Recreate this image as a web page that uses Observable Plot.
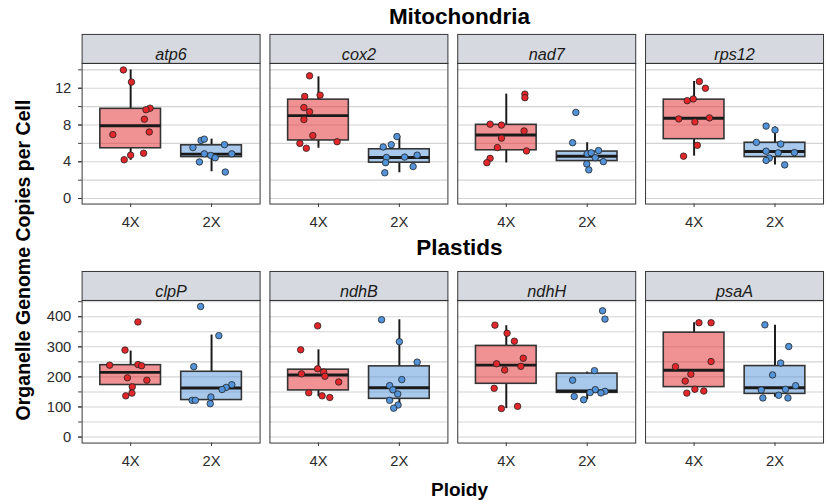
<!DOCTYPE html>
<html><head><meta charset="utf-8">
<script src="https://cdn.jsdelivr.net/npm/d3@7"></script>
<script src="https://cdn.jsdelivr.net/npm/@observablehq/plot@0.6"></script>
<style>
html,body{margin:0;padding:0;background:#fff;overflow:hidden;}
#wrap{position:relative;width:826px;height:500px;overflow:hidden;font-family:"Liberation Sans",Arial,Helvetica,sans-serif;}
.t{position:absolute;font-weight:bold;color:#000;white-space:nowrap;line-height:1;}
.p{position:absolute;left:0;}
#wrap svg g[aria-label$="tick label"], #wrap svg g[aria-label$="tick label"] text{font-size:15px !important;}
</style></head><body><div id="wrap">
<div class="t" style="left:82px;width:755px;top:6px;text-align:center;font-size:22.5px;">Mitochondria</div>
<div class="t" style="left:82px;width:755px;top:237px;text-align:center;font-size:22.5px;">Plastids</div>
<div class="t" style="left:82px;width:755px;top:480px;text-align:center;font-size:19px;">Ploidy</div>
<div class="t" style="left:24px;top:260px;font-size:19.5px;transform:translate(-50%,-50%) rotate(-90deg);">Organelle Genome Copies per Cell</div>
<div class="p" id="mito" style="top:0px;"></div>
<div class="p" id="plas" style="top:240px;"></div>
</div>
<script>
const ploidies = ["4X", "2X"];
const ploidyColors = ["#e2262a", "#5393d9"];
const mitoGenes = ["atp6", "cox2", "nad7", "rps12"];
const plastidGenes = ["clpP", "ndhB", "ndhH", "psaA"];
const mitoGridTicks = [0, 2, 4, 6, 8, 10, 12, 14];
const mitoLabelTicks = [0, 4, 8, 12];
const plastidGridTicks = [0, 50, 100, 150, 200, 250, 300, 350, 400, 450];
const plastidLabelTicks = [0, 100, 200, 300, 400];

// [gene, ploidy, value, jitter]
const mitoPoints = [
  ["atp6","4X",13.99,-0.09],["atp6","4X",12.67,0.01],["atp6","4X",9.83,0.24],["atp6","4X",9.66,0.19],["atp6","4X",8.63,0.17],
  ["atp6","4X",6.96,-0.22],["atp6","4X",7.24,0.23],["atp6","4X",4.72,0.0],["atp6","4X",4.93,0.16],["atp6","4X",4.22,-0.08],
  ["atp6","2X",6.32,-0.13],["atp6","2X",6.46,-0.09],["atp6","2X",5.54,-0.23],["atp6","2X",5.86,0.16],["atp6","2X",4.86,-0.09],
  ["atp6","2X",4.86,0.25],["atp6","2X",4.69,-0.01],["atp6","2X",4.44,0.045],["atp6","2X",3.98,-0.15],["atp6","2X",2.88,0.17],
  ["cox2","4X",13.35,-0.11],["cox2","4X",11.25,0.02],["cox2","4X",11.11,-0.17],["cox2","4X",9.90,-0.18],["cox2","4X",9.44,-0.11],
  ["cox2","4X",8.59,-0.18],["cox2","4X",6.85,-0.07],["cox2","4X",6.18,0.23],["cox2","4X",6.0,-0.23],["cox2","4X",5.47,-0.15],
  ["cox2","2X",6.74,-0.03],["cox2","2X",5.86,-0.10],["cox2","2X",5.61,-0.20],["cox2","2X",4.47,-0.16],["cox2","2X",4.51,0.065],
  ["cox2","2X",4.72,0.22],["cox2","2X",3.90,-0.17],["cox2","2X",3.48,0.17],["cox2","2X",2.80,-0.18],
  ["nad7","4X",11.36,0.23],["nad7","4X",10.97,0.23],["nad7","4X",8.09,-0.20],["nad7","4X",7.99,-0.06],["nad7","4X",7.35,0.22],
  ["nad7","4X",6.57,-0.06],["nad7","4X",5.54,-0.11],["nad7","4X",5.18,0.25],["nad7","4X",4.37,-0.20],["nad7","4X",3.90,-0.24],
  ["nad7","2X",9.37,-0.14],["nad7","2X",6.07,-0.18],["nad7","2X",5.22,0.14],["nad7","2X",4.86,0.0],["nad7","2X",4.97,0.05],
  ["nad7","2X",4.44,0.10],["nad7","2X",4.01,0.20],["nad7","2X",3.76,-0.005],["nad7","2X",3.12,0.02],
  ["rps12","4X",12.74,0.065],["rps12","4X",12.0,0.14],["rps12","4X",10.65,-0.085],["rps12","4X",10.83,-0.01],["rps12","4X",8.66,-0.19],
  ["rps12","4X",8.77,0.19],["rps12","4X",8.34,0.01],["rps12","4X",5.79,0.04],["rps12","4X",4.61,-0.13],
  ["rps12","2X",7.88,-0.11],["rps12","2X",7.45,0.0],["rps12","2X",6.11,-0.23],["rps12","2X",5.93,0.07],["rps12","2X",5.15,-0.11],
  ["rps12","2X",4.97,0.04],["rps12","2X",5.0,0.24],["rps12","2X",4.40,-0.07],["rps12","2X",4.15,-0.11],["rps12","2X",3.66,0.12]
];
// [gene, ploidy, lower whisker, q1, median, q3, upper whisker]
const mitoBoxes = [
  ["atp6","4X",4.15,5.47,7.92,9.76,13.99],["atp6","2X",2.91,4.51,4.83,5.79,6.46],
  ["cox2","4X",5.47,6.32,9.02,10.76,13.24],["cox2","2X",2.80,3.90,4.47,5.36,6.74],
  ["nad7","4X",3.87,5.25,6.92,8.02,11.36],["nad7","2X",3.12,4.08,4.61,5.11,6.07],
  ["rps12","4X",4.61,6.46,8.73,10.76,12.74],["rps12","2X",3.66,4.51,5.11,6.07,7.77]
];
const plastidPoints = [
  ["clpP","4X",382.6,0.09],["clpP","4X",289,-0.07],["clpP","4X",239,-0.26],["clpP","4X",241,0.09],["clpP","4X",237,0.135],
  ["clpP","4X",197,-0.04],["clpP","4X",189,0.20],["clpP","4X",167,0.02],["clpP","4X",146,0.016],["clpP","4X",137,-0.06],
  ["clpP","2X",434,-0.135],["clpP","2X",337,0.09],["clpP","2X",234,-0.22],["clpP","2X",174,0.25],["clpP","2X",165,0.18],
  ["clpP","2X",158,0.13],["clpP","2X",133,-0.008],["clpP","2X",122,-0.24],["clpP","2X",122,-0.20],["clpP","2X",111,-0.016],
  ["ndhB","4X",369.6,-0.01],["ndhB","4X",290,-0.22],["ndhB","4X",227,-0.01],["ndhB","4X",216,0.065],["ndhB","4X",210,-0.21],
  ["ndhB","4X",202,0.08],["ndhB","4X",183,0.25],["ndhB","4X",147,-0.12],["ndhB","4X",137,0.045],["ndhB","4X",131.5,0.14],
  ["ndhB","2X",390,-0.22],["ndhB","2X",317,0.0],["ndhB","2X",249,0.22],["ndhB","2X",191,0.03],["ndhB","2X",171,-0.12],
  ["ndhB","2X",157,-0.08],["ndhB","2X",143,-0.02],["ndhB","2X",122,-0.12],["ndhB","2X",106.5,-0.016],["ndhB","2X",96,-0.07],
  ["ndhH","4X",372,-0.14],["ndhH","4X",345,0.01],["ndhH","4X",318.5,0.10],["ndhH","4X",262,0.21],["ndhH","4X",243.5,-0.12],
  ["ndhH","4X",235,0.18],["ndhH","4X",223,-0.02],["ndhH","4X",162,-0.15],["ndhH","4X",102,0.14],["ndhH","4X",94.6,-0.06],
  ["ndhH","2X",419.6,0.19],["ndhH","2X",392,0.22],["ndhH","2X",220.7,0.09],["ndhH","2X",189,-0.18],["ndhH","2X",157.6,0.10],
  ["ndhH","2X",152,0.22],["ndhH","2X",148,0.036],["ndhH","2X",146.7,0.17],["ndhH","2X",134.8,-0.16],["ndhH","2X",124,-0.044],
  ["psaA","4X",380,0.06],["psaA","4X",380,0.21],["psaA","4X",251,0.21],["psaA","4X",234,-0.23],["psaA","4X",209,-0.04],
  ["psaA","4X",186,-0.11],["psaA","4X",159,0.01],["psaA","4X",153,0.12],["psaA","4X",146,-0.09],
  ["psaA","2X",373,-0.125],["psaA","2X",301,0.17],["psaA","2X",246,0.07],["psaA","2X",206.5,-0.03],["psaA","2X",170.7,0.255],
  ["psaA","2X",156.5,-0.17],["psaA","2X",158.7,0.13],["psaA","2X",139,0.045],["psaA","2X",130,-0.15],["psaA","2X",130,0.16]
];
const plastidBoxes = [
  ["clpP","4X",136,173,215,239,286],["clpP","2X",111,123,163,217,339],
  ["ndhB","4X",134,155,206.5,224,290],["ndhB","2X",97,127,164,235,390],
  ["ndhH","4X",94.6,177,239,303,370],["ndhH","2X",124,147,153,211,216],
  ["psaA","4X",147,166,222,347,380],["psaA","2X",132.6,143.5,164,236,372]
];

function section({points, boxes, genes, yDomain, gridTicks, labelTicks, height, marginTop, marginBottom}) {
  const pts = points.map(([gene, ploidy, value, jitter]) => ({gene, ploidy, x: ploidies.indexOf(ploidy) + 1 + jitter, value}));
  const bx = boxes.map(([gene, ploidy, lo, q1, med, q3, hi]) => ({gene, ploidy, pos: ploidies.indexOf(ploidy) + 1, lo, q1, med, q3, hi}));
  const panelH = height - marginTop - marginBottom;
  const half = 0.375;
  return Plot.plot({
    width: 840, height, marginLeft: 82, marginRight: 3, marginTop, marginBottom,
    style: {fontFamily: '"Liberation Sans", Arial, Helvetica, sans-serif', fontSize: "15px", color: "#2b2b2b", background: "transparent"},
    fx: {domain: genes, paddingInner: 10 / 191, paddingOuter: 0, axis: null, label: null},
    x: {domain: [0.4, 2.6], label: null},
    y: {domain: yDomain, label: null},
    color: {domain: ploidies, range: ploidyColors},
    marks: [
      Plot.gridY(gridTicks, {stroke: "#d4d4d4", strokeOpacity: 1, strokeWidth: 1.1}),
      Plot.frame({fill: "#d6d9df", stroke: "#333", strokeWidth: 1, insetTop: -29.5, insetBottom: panelH}),
      Plot.text(genes, {fx: d => d, text: d => d, frameAnchor: "top", dy: -15, fontStyle: "italic", fontSize: 16.5, fill: "#1a1a1a"}),
      Plot.ruleX(bx, {fx: "gene", x: "pos", y1: "q3", y2: "hi", stroke: "#1a1a1a", strokeWidth: 2}),
      Plot.ruleX(bx, {fx: "gene", x: "pos", y1: "lo", y2: "q1", stroke: "#1a1a1a", strokeWidth: 2}),
      Plot.rectY(bx, {fx: "gene", x1: d => d.pos - half, x2: d => d.pos + half, y1: "q1", y2: "q3", fill: "ploidy", fillOpacity: 0.5, stroke: "#333", strokeWidth: 1.6}),
      Plot.ruleY(bx, {fx: "gene", x1: d => d.pos - half, x2: d => d.pos + half, y: "med", stroke: "#1a1a1a", strokeWidth: 3}),
      Plot.dot(pts, {fx: "gene", x: "x", y: "value", fill: "ploidy", stroke: "#222", strokeWidth: 0.8, r: 3.3}),
      Plot.frame({stroke: "#333", strokeWidth: 1}),
      Plot.axisY(gridTicks, {tickSize: 3.5, tickFormat: () => "", label: null, stroke: "#333"}),
      Plot.axisY(labelTicks, {tickSize: 3.5, tickPadding: 7.5, label: null, fontSize: 15, fill: "#2b2b2b", stroke: "#333"}),
      Plot.axisX([1, 2], {tickSize: 3.5, tickPadding: 9, tickFormat: d => ploidies[d - 1], label: null, fontSize: 15, fill: "#2b2b2b", stroke: "#333"})
    ]
  });
}

document.getElementById("mito").append(section({
  points: mitoPoints, boxes: mitoBoxes, genes: mitoGenes, yDomain: [-0.6, 14.7],
  gridTicks: mitoGridTicks, labelTicks: mitoLabelTicks, height: 236, marginTop: 64, marginBottom: 29
}));
document.getElementById("plas").append(section({
  points: plastidPoints, boxes: plastidBoxes, genes: plastidGenes, yDomain: [-20, 454],
  gridTicks: plastidGridTicks, labelTicks: plastidLabelTicks, height: 236, marginTop: 61, marginBottom: 30
}));
</script>
</body></html>
